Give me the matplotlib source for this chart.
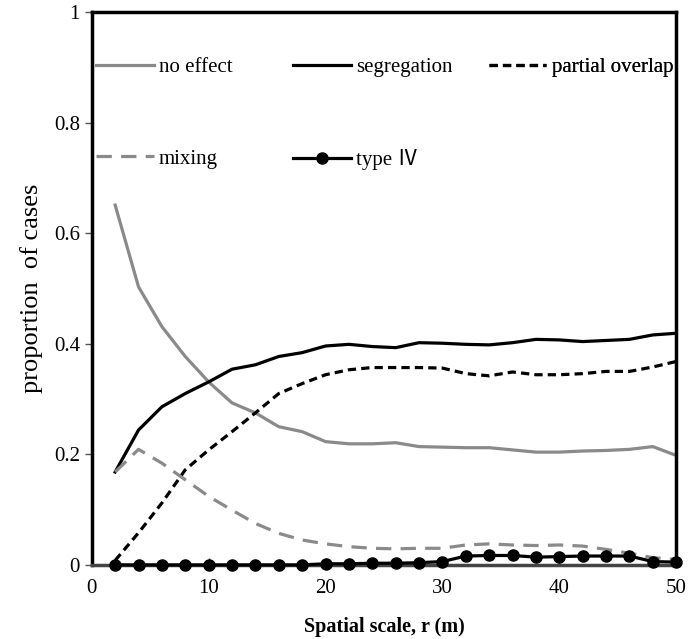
import numpy as np
from matplotlib import pyplot as plt

# escala espacial (m)
r = [2, 4, 6, 8, 10, 12, 14, 16, 18, 20, 22, 24, 26,
     28, 30, 32, 34, 36, 38, 40, 42, 44, 46, 48, 50]

no_effect = [0.651, 0.503, 0.431, 0.377, 0.331, 0.293, 0.275, 0.250, 0.241, 0.223,
             0.219, 0.219, 0.221, 0.214, 0.213, 0.212, 0.212, 0.208, 0.204, 0.204,
             0.206, 0.207, 0.209, 0.214, 0.198]
segregation = [0.168, 0.244, 0.286, 0.310, 0.331, 0.354, 0.362, 0.377, 0.384, 0.396,
               0.399, 0.395, 0.393, 0.402, 0.401, 0.399, 0.398, 0.402, 0.408, 0.407,
               0.404, 0.406, 0.408, 0.416, 0.419]
partial_overlap = [0.008, 0.058, 0.112, 0.172, 0.208, 0.241, 0.275, 0.310, 0.328, 0.344,
                   0.353, 0.357, 0.357, 0.357, 0.356, 0.346, 0.342, 0.349, 0.344, 0.344,
                   0.346, 0.350, 0.350, 0.358, 0.368]
mixing = [0.168, 0.209, 0.184, 0.154, 0.124, 0.099, 0.075, 0.057, 0.045, 0.038,
          0.033, 0.030, 0.029, 0.030, 0.030, 0.036, 0.038, 0.036, 0.035, 0.036,
          0.034, 0.028, 0.021, 0.013, 0.010]
type_iv = [0.0, 0.0, 0.0, 0.0, 0.0, 0.0, 0.0, 0.0, 0.0, 0.002,
           0.002, 0.003, 0.003, 0.004, 0.006, 0.016, 0.017, 0.017, 0.014, 0.015,
           0.016, 0.016, 0.016, 0.006, 0.005]

cinza = '#8a8a8a'
plt.rcParams['font.family'] = 'Liberation Serif'

fig = plt.figure(figsize=(6.9, 6.39), dpi=100)
ax = fig.add_axes([0.133, 0.116, 0.847, 0.865])

l1, = ax.plot(r, no_effect, color=cinza, lw=2.3, label='no effect')
l2, = ax.plot(r, segregation, color='black', lw=2.3, label='segregation')
l3, = ax.plot(r, partial_overlap, color='black', lw=2.3, dashes=(2.6, 1.6), label='partial overlap')
l4, = ax.plot(r, mixing, color=cinza, lw=2.3, dashes=(4.8, 2.9), label='mixing')
l5, = ax.plot(r, type_iv, color='black', lw=2.3, marker='o', markersize=8,
              label='type \u2163', clip_on=False, zorder=5)

ax.set_xlim(0, 50)
ax.set_ylim(0, 1)
ax.set_xticks([0, 10, 20, 30, 40, 50])
ax.set_yticks([0, 0.2, 0.4, 0.6, 0.8, 1])
ax.set_yticklabels(['0', '0.2', '0.4', '0.6', '0.8', '1'])
ax.tick_params(axis='y', direction='out', length=5, width=1, labelsize=15, color='#555555')
ax.tick_params(axis='x', direction='in', length=5, width=1, labelsize=15, color='#555555', pad=10)
for s in ax.spines.values():
    s.set_linewidth(2.5)
    s.set_color('black')
ax.spines['bottom'].set_color('#444444')

ax.set_ylabel('proportion  of cases', fontsize=19, labelpad=8)
ax.set_xlabel('Spatial scale, r (m)', fontsize=14.5, fontweight='bold', labelpad=14)

"""Legenda em três colunas"""
colunas = [([l1, l4], 0.008), ([l2, l5], 0.345), ([l3], 0.68)]
for handles, xpos in colunas:
    leg = ax.legend(handles=handles, loc='upper left', bbox_to_anchor=(xpos, 0.918),
                    frameon=False, fontsize=15, handlelength=2.75, handletextpad=0.25,
                    labelspacing=3.45, borderpad=0, borderaxespad=0)
    for t in leg.get_texts():
        t.set_family(['Liberation Serif', 'Noto Sans CJK SC'])
    ax.add_artist(leg)

plt.savefig('out.png', dpi=100)
